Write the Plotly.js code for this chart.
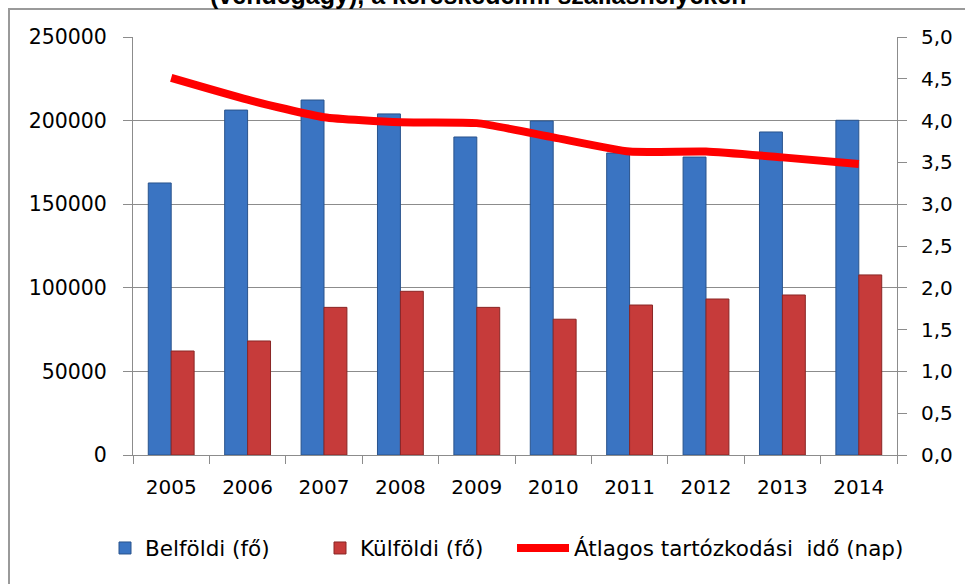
<!DOCTYPE html>
<html>
<head>
<meta charset="utf-8">
<script src="https://cdn.plot.ly/plotly-3.0.1.min.js"></script>
<style>
  html, body { margin: 0; padding: 0; background: #ffffff; }
  #chart { width: 965px; height: 584px; }
</style>
</head>
<body>
<div id="chart"></div>
<script>
// ---- data ----
const years = ['2005', '2006', '2007', '2008', '2009', '2010', '2011', '2012', '2013', '2014'];
const belfoldi = [162700, 206300, 212300, 204000, 190200, 199800, 180600, 178200, 193200, 200200];
const kulfoldi = [62200, 68200, 88300, 97900, 88300, 81200, 89700, 93300, 95700, 107700];
const atlagosIdo = [4.51, 4.25, 4.04, 3.98, 3.97, 3.80, 3.63, 3.63, 3.56, 3.48];

const seriesNames = ['Belföldi (fő)', 'Külföldi (fő)', 'Átlagos tartózkodási  idő (nap)'];
const titleText = '(vendégágy), a kereskedelmi szálláshelyeken';

const FONT = 'DejaVu Sans, Verdana, sans-serif';

const traces = [
  {
    type: 'bar', name: seriesNames[0], x: years, y: belfoldi,
    marker: { color: '#3A74C2', line: { color: '#29538C', width: 1 } },
    legend: 'legend', hoverinfo: 'x+y'
  },
  {
    type: 'bar', name: seriesNames[1], x: years, y: kulfoldi,
    marker: { color: '#C63B3A', line: { color: '#8A2625', width: 1 } },
    legend: 'legend2', hoverinfo: 'x+y'
  },
  {
    type: 'scatter', mode: 'lines', name: seriesNames[2], x: years, y: atlagosIdo,
    yaxis: 'y2',
    line: { color: '#FF0000', width: 8, shape: 'spline', smoothing: 0.5 },
    legend: 'legend3', hoverinfo: 'x+y'
  }
];

const legendBase = {
  orientation: 'h',
  xref: 'container', yref: 'container',
  yanchor: 'middle', xanchor: 'left',
  y: 1 - 548 / 584,
  bgcolor: 'rgba(0,0,0,0)',
  font: { family: FONT, size: 21.5, color: '#000000' },
  borderwidth: 0
};

const layout = {
  width: 965, height: 584,
  margin: { l: 133, r: 68, t: 37, b: 129 },
  paper_bgcolor: '#ffffff', plot_bgcolor: '#ffffff',
  separators: ',.',
  barmode: 'group',
  bargap: 0.4,
  bargroupgap: 0,
  font: { family: FONT, size: 20, color: '#000000' },
  xaxis: {
    type: 'category',
    showgrid: false,
    showline: true, linecolor: '#8C8C8C', linewidth: 1,
    ticks: 'outside', tickson: 'boundaries', ticklen: 8, tickcolor: '#8C8C8C',
    ticklabelstandoff: 14,
    tickfont: { family: FONT, size: 20, color: '#000000' },
    zeroline: false
  },
  yaxis: {
    range: [0, 250000], dtick: 50000, tickformat: 'd',
    showgrid: true, gridcolor: '#8C8C8C', gridwidth: 1,
    showline: true, linecolor: '#8C8C8C', linewidth: 1,
    ticks: 'outside', ticklen: 9, tickcolor: '#8C8C8C',
    ticklabelstandoff: 12,
    tickfont: { family: FONT, size: 20.5, color: '#000000' },
    zeroline: false
  },
  yaxis2: {
    overlaying: 'y', side: 'right',
    range: [0, 5], dtick: 0.5, tickformat: '.1f',
    showgrid: false,
    showline: true, linecolor: '#8C8C8C', linewidth: 1,
    ticks: 'outside', ticklen: 9, tickcolor: '#8C8C8C',
    ticklabelstandoff: 10,
    tickfont: { family: FONT, size: 20, color: '#000000' },
    zeroline: false
  },
  showlegend: true,
  legend: Object.assign({}, legendBase, { x: 105 / 965, itemwidth: 30 }),
  legend2: Object.assign({}, legendBase, { x: 320 / 965, itemwidth: 30 }),
  legend3: Object.assign({}, legendBase, { x: 512 / 965, itemwidth: 52 }),
  shapes: [
    {
      type: 'rect', xref: 'paper', yref: 'paper', layer: 'below',
      x0: (9 - 133) / 764, x1: 1.3, y0: -0.5, y1: (455 - 9) / 418,
      line: { color: '#9A9A9A', width: 2 }, fillcolor: 'rgba(0,0,0,0)'
    }
  ],
  annotations: [
    {
      text: '<b>' + titleText + '</b>',
      xref: 'paper', yref: 'paper',
      x: (478 - 133) / 764, xanchor: 'center',
      y: (455 - 10) / 418, yanchor: 'bottom',
      showarrow: false, borderpad: 0,
      font: { family: 'Liberation Sans, Arial, sans-serif', size: 25, color: '#000000' }
    }
  ]
};

Plotly.newPlot('chart', traces, layout, { displayModeBar: false, staticPlot: true });
</script>
</body>
</html>
